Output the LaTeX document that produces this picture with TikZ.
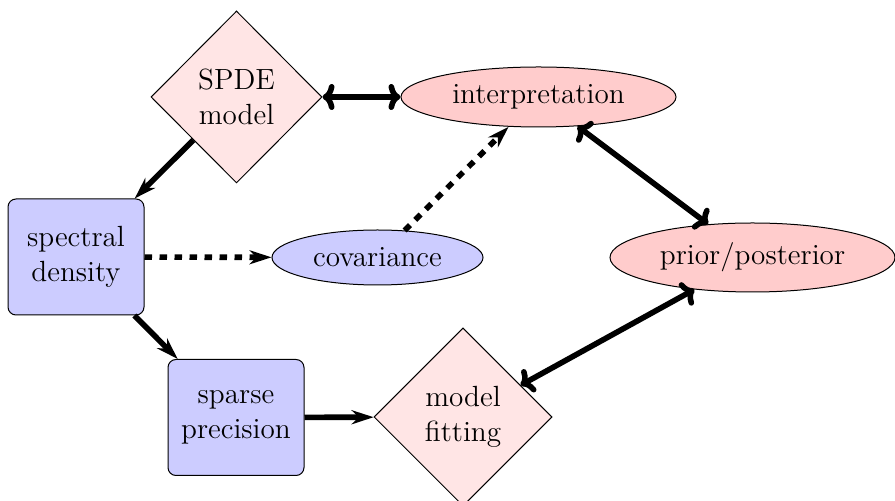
\documentclass[tikz,border=0pt]{standalone}
\usetikzlibrary{shapes.geometric,arrows.meta}
\begin{document}
\begin{tikzpicture}[x=0.5pt,y=-0.5pt,
  txt/.style={font=\fontsize{14.6}{17.8}\selectfont,align=center,inner sep=0pt,line width=0.5pt,draw=black},
  dia/.style={txt,diamond,fill=red!10,aspect=1},
  ell/.style={txt,ellipse},
  box/.style={txt,rectangle,rounded corners=4pt,fill=blue!20,minimum width=68pt,minimum height=58pt},
  sgl/.style={line width=2.8pt,-{Stealth[length=11pt,width=7pt,inset=3.5pt]}},
  dbl/.style={line width=2.8pt,{To[length=6pt,width=13pt]}-{To[length=6pt,width=13pt]}},
  dsh/.style={dash pattern=on 3.75pt off 3.75pt}]
\useasboundingbox (0,0) rectangle (895,501);
\node[dia,minimum width=85.5pt,minimum height=86pt] (spde) at (236.5,97) {SPDE\\model};
\node[ell,fill=red!20,minimum width=137.5pt,minimum height=30pt] (interp) at (538.5,97) {interpretation};
\node[box] (spec) at (76,257) {spectral\\density};
\node[ell,fill=blue!20,minimum width=105.5pt,minimum height=27.5pt] (cov) at (377.5,257.5) {covariance};
\node[ell,fill=red!20,minimum width=142.5pt,minimum height=34.5pt] (prior) at (752.5,257.5) {prior/posterior};
\node[box] (sparse) at (236,417.5) {sparse\\precision};
\node[dia,minimum width=89pt,minimum height=89pt] (fit) at (463,417) {model\\fitting};
\draw[dbl] (spde) -- (interp);
\draw[sgl] (spde) -- (spec);
\draw[sgl,dsh] (spec) -- (cov);
\draw[sgl,dsh] (cov) -- (interp);
\draw[sgl] (spec) -- (sparse);
\draw[sgl] (sparse) -- (fit);
\draw[dbl] (interp) -- (prior);
\draw[dbl] (fit) -- (prior);
\end{tikzpicture}
\end{document}
